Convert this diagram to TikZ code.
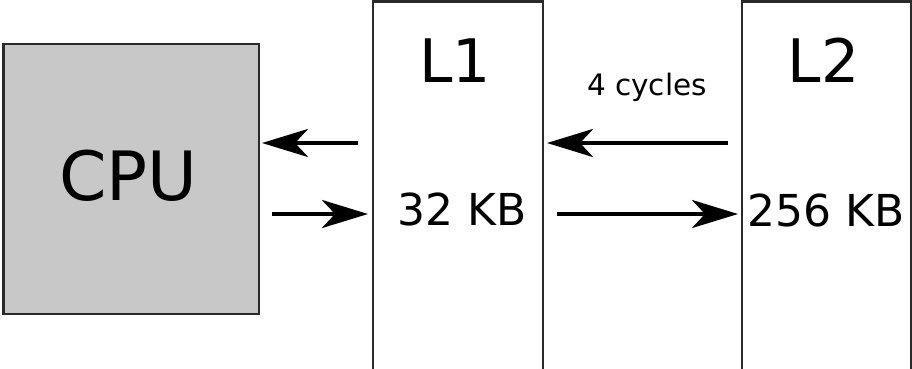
\documentclass[tikz,border=0pt]{standalone}
\usepackage{fontspec}
\setmainfont{DejaVu Sans}
\usetikzlibrary{arrows.meta}
\definecolor{cpugray}{HTML}{C8C8C8}
\definecolor{edge}{HTML}{2A2A2A}
\tikzset{
  unitbox/.style={draw=edge, line width=2.8pt, inner sep=0pt, outer sep=0pt},
  label/.style={anchor=base, inner sep=0pt, text=black},
  flow/.style={line width=4.5pt, -{Stealth[length=46pt, width=28pt, inset=13pt]}},
}
\begin{document}
\begin{tikzpicture}[x=1pt, y=-1pt]
  \useasboundingbox (0,0) rectangle (912,369);
  \clip (0,0) rectangle (912,369);
  % memory hierarchy blocks
  \node[unitbox, fill=cpugray, minimum width=255.5pt, minimum height=270pt] (cpu) at (131.25,179) {};
  \node[unitbox, fill=white, minimum width=170pt, minimum height=418pt] (l1) at (458,210.5) {};
  \node[unitbox, fill=white, minimum width=169pt, minimum height=418pt] (l2) at (826.5,210.5) {};
  % labels
  \node[label, font=\fontsize{68}{78}\selectfont] (cputxt) at (128.5,200) {CPU};
  \node[label, font=\fontsize{60}{70}\selectfont] (l1txt) at (455,82) {L1};
  \node[label, font=\fontsize{44}{52}\selectfont] (l1size) at (462,225.5) {32 KB};
  \node[label, font=\fontsize{60}{70}\selectfont] (l2txt) at (823.5,82) {L2};
  \node[label, font=\fontsize{44}{52}\selectfont] (l2size) at (826,226.5) {256 KB};
  \node[label, font=\fontsize{29.5}{35}\selectfont] (lat) at (647,95) {4 cycles};
  % arrow end points
  \coordinate (a1s) at (358,143); \coordinate (a1e) at (262,143);
  \coordinate (a2s) at (272,214); \coordinate (a2e) at (368,214);
  \coordinate (a3s) at (728,143); \coordinate (a3e) at (547,143);
  \coordinate (a4s) at (557,214); \coordinate (a4e) at (738,214);
  % data transfers
  \draw[flow] (a1s) -- (a1e);
  \draw[flow] (a2s) -- (a2e);
  \draw[flow] (a3s) -- (a3e);
  \draw[flow] (a4s) -- (a4e);
\end{tikzpicture}
\end{document}
